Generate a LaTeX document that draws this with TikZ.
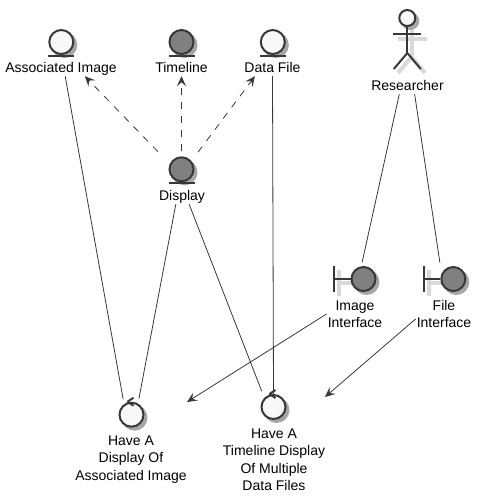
\documentclass[tikz,border=0pt]{standalone}
\usepackage{fontspec}
\setmainfont{Liberation Sans}
\usetikzlibrary{arrows.meta,calc,positioning}
\definecolor{lineGrey}{HTML}{383838}
\definecolor{darkFill}{HTML}{808080}
\definecolor{lightFill}{HTML}{F8F8F8}
\begin{document}
\begin{tikzpicture}[
		x=1pt, y=-1pt,
		>={Stealth[length=10pt,width=9pt,inset=4pt]},
		ball/.style={circle, draw=lineGrey, line width=2pt, minimum size=24pt, inner sep=0pt},
		lightball/.style={ball, fill=lightFill},
		darkball/.style={ball, fill=darkFill},
		txt/.style={inner sep=1pt, align=center, font=\fontsize{14}{17.5}\selectfont},
		onetxt/.style={txt, text height=11pt, text depth=3pt},
		stroke/.style={draw=lineGrey, line width=2pt},
		ghost/.style={draw=black!15, line width=4pt},
		link/.style={draw=lineGrey, line width=0.8pt},
		dep/.style={link, ->, dash pattern=on 7pt off 7pt}
		]
	
		\useasboundingbox (0,0) rectangle (483,501);
	
		% --- Shadows ---
		\foreach \x/\y in {61.3/42, 181.5/42, 272.8/42, 181.5/169.3, 363.5/279, 453.3/279, 131.5/414.7, 273.5/407}
			\fill[black!35] (\x+3,\y+3) circle (13pt);
		\fill[black!35] (410.3,21) circle (9pt);
	
		% --- Entities ---
		\node[lightball] (Assoc) at (61.3,42) {};
		\node[darkball] (Timeline) at (181.5,42) {};
		\node[lightball] (Data) at (272.8,42) {};
		\node[darkball] (Display) at (181.5,169.3) {};
		\draw[stroke] ($(Assoc.south)+(-13,1)$) -- ($(Assoc.south)+(13,1)$);
		\draw[stroke] ($(Timeline.south)+(-13,1)$) -- ($(Timeline.south)+(13,1)$);
		\draw[stroke] ($(Data.south)+(-13,1)$) -- ($(Data.south)+(13,1)$);
		\draw[stroke] ($(Display.south)+(-13,1)$) -- ($(Display.south)+(13,1)$);
		\node[onetxt] (AssocTxt) at (61,68) {Associated Image};
		\node[onetxt] (TimelineTxt) at (181.5,68) {Timeline};
		\node[onetxt] (DataTxt) at (272.5,68) {Data File};
		\node[onetxt] (DisplayTxt) at (182,196) {Display};
	
		% --- Researcher ---
		\coordinate (Arms) at (407.3,34.3);
		\coordinate (Hip) at (407.3,53);
		\draw[ghost] (398,38.5) -- (427,38.5);
		\draw[ghost] (411.5,30) -- (411.5,57);
		\draw[ghost] (411.5,57) -- (398,73);
		\draw[ghost] (411.5,57) -- (425,73);
		\node[circle, draw=lineGrey, fill=lightFill, line width=2pt, minimum size=16pt, inner sep=0pt] (Head) at (407.3,18) {};
		\draw[stroke] (Head.south) -- (Hip);
		\draw[stroke] ($(Arms)+(-14,0)$) -- ($(Arms)+(14,0)$);
		\draw[stroke] (Hip) -- +(-13.5,16);
		\draw[stroke] (Hip) -- +(13.5,16);
		\node[onetxt] (ResearcherTxt) at (407.5,86) {Researcher};
	
		% --- Interfaces ---
		\draw[ghost] (338.5,270) -- (338.5,296);
		\draw[ghost] (338.5,283) -- (355,283);
		\draw[ghost] (428.5,270) -- (428.5,296);
		\draw[ghost] (428.5,283) -- (445,283);
		\node[darkball] (Image) at (363.5,279) {};
		\node[darkball] (File) at (453.3,279) {};
		\draw[stroke] (334.3,266) -- (334.3,292);
		\draw[stroke] (334.3,279) -- (Image.west);
		\draw[stroke] (424.3,266) -- (424.3,292);
		\draw[stroke] (424.3,279) -- (File.west);
		\node[txt] (ImageTxt) at (355,314) {Image\\Interface};
		\node[txt] (FileTxt) at (444,314) {File\\Interface};
	
		% --- Use cases ---
		\node[lightball] (HaveImg) at (131.5,414.7) {};
		\node[lightball] (HaveTl) at (273.5,407) {};
		\draw[stroke] ($(HaveImg.north)+(-4,0)$) -- +(6,-4);
		\draw[stroke] ($(HaveImg.north)+(-4,0)$) -- +(6,4);
		\draw[stroke] ($(HaveTl.north)+(-4,0)$) -- +(6,-4);
		\draw[stroke] ($(HaveTl.north)+(-4,0)$) -- +(6,4);
		\node[txt] (HaveImgTxt) at (131,459.5) {Have A\\Display Of\\Associated Image};
		\node[txt] (HaveTlTxt) at (274,459.5) {Have A\\Timeline Display\\Of Multiple\\Data Files};
	
		% --- Links ---
		\coordinate (ImgEnd) at (187,402);
		\coordinate (TlEnd) at (325,397);
	
		\draw[dep, shorten <=17pt] (Display.155) -- (AssocTxt.-19);
		\draw[dep, shorten <=5pt] (Display.north) -- (TimelineTxt.south);
		\draw[dep, shorten <=11pt] (Display.40) -- (DataTxt.205);
		\draw[link, shorten >=5pt] (AssocTxt.-63) -- (HaveImg.125);
		\draw[link, shorten >=5pt] (DisplayTxt.-127) -- (HaveImg.60);
		\draw[link, shorten >=7pt] (DisplayTxt.-49) -- (HaveTl.135);
		\draw[link] (DataTxt.south) -- (HaveTl.north);
		\draw[link, shorten >=4pt] (ResearcherTxt.-135) -- (Image.100);
		\draw[link, shorten >=11pt] (ResearcherTxt.-49) -- (File.155);
		\draw[link, ->] (ImageTxt.west) -- (ImgEnd);
		\draw[link, ->] (FileTxt.190) -- (TlEnd);
	
	\end{tikzpicture}
\end{document}
